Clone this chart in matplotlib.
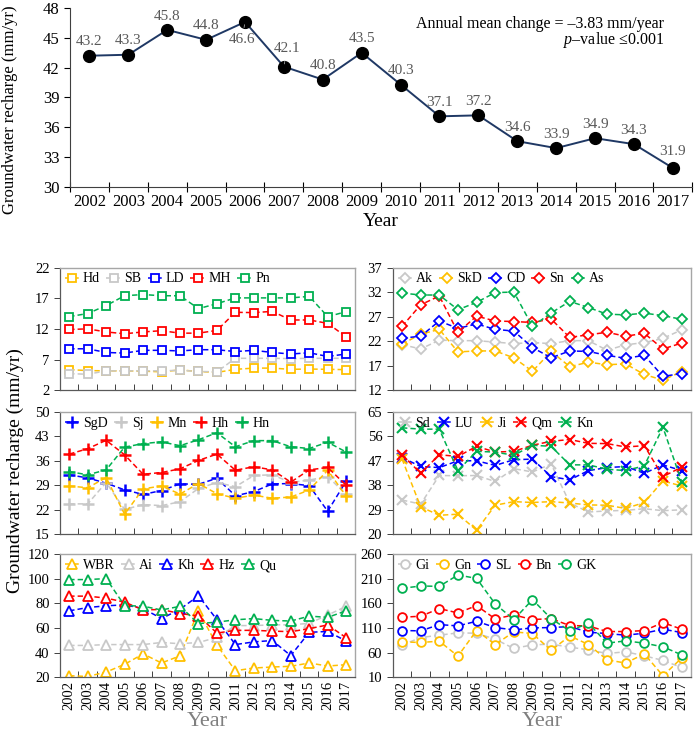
import matplotlib
matplotlib.use('Agg')
import matplotlib.pyplot as plt
import numpy as np

plt.rcParams['font.family'] = ['Liberation Serif', 'DejaVu Serif']
plt.rcParams['mathtext.fontset'] = 'custom'
plt.rcParams['mathtext.rm'] = 'Liberation Serif'
plt.rcParams['mathtext.it'] = 'Liberation Serif:italic'

years = [str(y) for y in range(2002, 2018)]
mean_recharge = [43.2, 43.3, 45.8, 44.8, 46.6, 42.1, 40.8, 43.5, 40.3, 37.1, 37.2, 34.6, 33.9, 34.9, 34.3, 31.9]

# Panel 1
Hd = [5.35, 5.2, 5.15, 5.15, 5.1, 5.0, 5.3, 5.05, 4.9, 5.4, 5.6, 5.6, 5.4, 5.45, 5.4, 5.35]
SB = [4.7, 4.6, 5.15, 5.15, 5.15, 5.15, 5.25, 5.05, 5.0, 7.2, 7.2, 7.2, 7.15, 7.2, 7.2, 7.2]
LD = [8.75, 8.75, 8.15, 8.05, 8.5, 8.5, 8.4, 8.6, 8.6, 8.3, 8.5, 8.15, 7.9, 8.1, 7.5, 7.9]
MH = [11.9, 12.0, 11.5, 11.2, 11.5, 11.7, 11.3, 11.3, 11.75, 14.7, 14.65, 14.85, 13.45, 13.45, 12.9, 10.7]
Pn = [14.0, 14.5, 15.8, 17.4, 17.6, 17.4, 17.4, 15.3, 16.1, 17.05, 17.05, 17.05, 17.05, 17.3, 14.0, 14.8]

# Panel 2
Ak = [21.3, 20.4, 22.2, 22.1, 22.1, 21.8, 21.5, 21.7, 21.5, 22.1, 22.1, 20.15, 21.25, 21.7, 22.55, 24.3]
SkD = [21.4, 23.4, 24.4, 19.8, 20.0, 20.0, 18.6, 15.85, 19.9, 16.8, 17.7, 17.2, 17.35, 15.2, 14.05, 15.8]
CD = [22.6, 23.0, 26.1, 24.6, 25.5, 24.4, 24.05, 20.7, 18.6, 20.0, 19.9, 19.1, 18.5, 19.1, 14.8, 15.4]
Sn = [25.0, 29.4, 31.2, 23.8, 27.1, 26.1, 26.0, 25.8, 26.5, 22.75, 23.3, 23.8, 23.0, 23.6, 20.4, 21.6]
As = [31.8, 31.4, 31.4, 28.4, 29.9, 31.9, 32.0, 25.0, 27.75, 30.1, 28.85, 27.5, 27.35, 27.7, 27.2, 26.45]

# Panel 3
SgD = [32.0, 31.1, 29.6, 27.7, 26.4, 27.5, 29.4, 29.3, 31.0, 26.0, 27.2, 29.4, 29.5, 28.9, 21.6, 30.2]
Sj = [23.7, 23.7, 29.8, 22.1, 23.5, 23.2, 24.3, 28.1, 29.8, 28.6, 31.8, 32.0, 29.8, 30.5, 31.5, 26.4]
Mn = [28.8, 28.3, 31.2, 20.75, 28.0, 28.8, 26.5, 29.5, 26.6, 25.3, 26.2, 25.3, 25.65, 27.65, 33.3, 25.9]
Hh = [37.9, 39.45, 41.85, 37.7, 32.15, 32.65, 33.7, 36.1, 37.9, 33.3, 34.3, 33.4, 29.9, 33.4, 34.1, 29.0]
Hn = [32.9, 32.0, 33.4, 39.9, 40.9, 41.4, 40.3, 42.0, 44.0, 40.0, 41.75, 41.75, 40.0, 39.5, 41.3, 38.5]

# Panel 4
Sd = [32.6, 31.1, 41.6, 41.5, 41.6, 39.4, 44.1, 42.9, 45.8, 31.5, 28.2, 28.6, 28.8, 29.4, 28.7, 29.0]
LU = [48.2, 44.9, 44.5, 47.0, 47.0, 45.3, 47.4, 47.6, 41.2, 40.0, 43.4, 44.5, 44.9, 42.4, 45.5, 43.4]
Ji = [47.7, 30.1, 27.0, 27.4, 21.5, 30.7, 32.0, 31.7, 32.0, 31.5, 30.8, 30.7, 29.5, 31.7, 39.6, 37.75]
Qm = [49.2, 42.4, 49.2, 48.6, 52.3, 50.2, 50.45, 52.7, 54.15, 54.8, 53.4, 53.3, 52.05, 52.55, 41.2, 44.65]
Kn = [59.1, 58.6, 58.6, 43.4, 50.45, 50.2, 49.0, 52.7, 52.3, 45.5, 45.5, 43.9, 43.4, 45.15, 59.3, 39.35]

# Panel 5
WBR = [21.1, 20.5, 24.1, 30.4, 38.9, 31.5, 37.3, 74.0, 46.0, 25.2, 27.4, 28.2, 28.8, 31.5, 29.0, 30.1]
Ai = [45.8, 45.8, 46.5, 46.5, 46.5, 48.2, 47.2, 48.2, 52.3, 62.0, 62.0, 62.6, 62.6, 63.8, 70.6, 77.6]
Kh = [74.0, 76.7, 78.1, 78.9, 75.9, 67.7, 75.3, 86.3, 66.8, 46.5, 48.7, 49.8, 37.5, 56.5, 57.2, 49.4]
Hz = [86.0, 86.0, 84.4, 81.1, 74.8, 75.1, 71.8, 69.9, 55.9, 58.1, 58.1, 57.5, 57.0, 59.5, 62.5, 52.1]
Qu = [99.5, 99.5, 100.3, 78.3, 77.8, 74.7, 77.7, 63.6, 64.8, 66.7, 67.7, 66.2, 65.7, 69.7, 68.7, 74.0]

# Panel 6
Gi = [75.0, 90.6, 95.4, 100.1, 99.4, 87.2, 68.3, 75.7, 77.1, 71.0, 65.6, 58.1, 61.5, 53.4, 43.9, 29.6]
Gn = [81.8, 80.5, 83.2, 52.7, 104.9, 76.4, 102.1, 98.8, 64.2, 94.0, 76.4, 45.2, 38.5, 57.4, 12.7, 48.6]
SL = [104.9, 104.2, 117.0, 114.3, 123.8, 111.0, 106.2, 110.3, 110.9, 113.0, 101.5, 98.7, 95.4, 99.4, 107.6, 100.8]
Bn = [132.0, 134.0, 149.6, 140.8, 155.7, 128.6, 136.7, 127.2, 129.2, 115.0, 114.3, 102.8, 102.8, 104.8, 121.1, 107.6]
GK = [191.0, 195.6, 195.0, 218.0, 211.2, 159.1, 127.2, 167.9, 129.2, 104.1, 119.8, 79.1, 83.8, 79.1, 71.7, 55.4]

panel_names = [['Hd', 'SB', 'LD', 'MH', 'Pn'],
               ['Ak', 'SkD', 'CD', 'Sn', 'As'],
               ['SgD', 'Sj', 'Mn', 'Hh', 'Hn'],
               ['Sd', 'LU', 'Ji', 'Qm', 'Kn'],
               ['WBR', 'Ai', 'Kh', 'Hz', 'Qu'],
               ['Gi', 'Gn', 'SL', 'Bn', 'GK']]
panel_values = [[Hd, SB, LD, MH, Pn],
                [Ak, SkD, CD, Sn, As],
                [SgD, Sj, Mn, Hh, Hn],
                [Sd, LU, Ji, Qm, Kn],
                [WBR, Ai, Kh, Hz, Qu],
                [Gi, Gn, SL, Bn, GK]]
panel_yticks = [[2, 7, 12, 17, 22],
                [12, 17, 22, 27, 32, 37],
                [15, 22, 29, 36, 43, 50],
                [20, 29, 38, 47, 56, 65],
                [20, 40, 60, 80, 100, 120],
                [10, 60, 110, 160, 210, 260]]

YEL, GRY, BLU, RED, GRN = '#FFC000', '#C8C8C8', '#0000FF', '#FF0000', '#00B050'
panel_colors = [[YEL, GRY, BLU, RED, GRN],
                [GRY, YEL, BLU, RED, GRN],
                [BLU, GRY, YEL, RED, GRN],
                [GRY, BLU, YEL, RED, GRN],
                [YEL, GRY, BLU, RED, GRN],
                [GRY, YEL, BLU, RED, GRN]]
panel_markers = ['s', 'D', '+', 'x', '^', 'o']

fig = plt.figure(figsize=(7.0, 7.3), dpi=100)

# ---------------- top panel ----------------
x = np.arange(len(years))
ax = fig.add_axes([0.1, 0.744, 0.889, 0.245])
ax.plot(x, mean_recharge, color='#1F3864', lw=1.4, marker='o', ms=8.5,
        mfc='black', mec='black', zorder=3)
ax.set_xlim(-0.5, len(years) - 0.5)
ax.set_ylim(30, 48)
ax.set_yticks(np.arange(30, 49, 3))
ax.set_xticks(x)
ax.set_xticklabels(years, fontsize=12)
ax.tick_params(axis='x', which='major', length=0, pad=5)
ax.set_xticks(np.arange(-0.5, len(years), 1), minor=True)
ax.tick_params(axis='x', which='minor', length=7, direction='inout', width=0.8)
ax.tick_params(axis='y', labelsize=12, length=4, width=0.8)
for s in ['top', 'right']:
    ax.spines[s].set_visible(False)
for s in ['left', 'bottom']:
    ax.spines[s].set_color('#404040')
    ax.spines[s].set_linewidth(0.8)
ax.set_ylabel('Groundwater recharge (mm/yr)', fontsize=12)
ax.yaxis.set_label_coords(-0.083, 0.43)
ax.set_xlabel('Year', fontsize=14, labelpad=2)

offsets = {4: (-2, -13), 5: (2, 13), 15: (0, 12)}
for i, v in enumerate(mean_recharge):
    dx, dy = offsets.get(i, (0, 10))
    ax.annotate(f'{v:.1f}', (x[i], v), xytext=(dx, dy), textcoords='offset points',
                ha='center', va='center', fontsize=11, color='#595959', zorder=4)
for i in (4, 5):
    v = mean_recharge[i]
    sgn = -1 if i == 4 else 1
    ax.annotate('', (x[i], v), xytext=(offsets[i][0] * 0.5, sgn * 6), textcoords='offset points',
                arrowprops=dict(arrowstyle='-', color='#A0A0A0', lw=0.6))

ax.text(0.955, 0.912, 'Annual mean change = \u20133.83 mm/year', transform=ax.transAxes,
        ha='right', va='center', fontsize=11.5)
ax.text(0.955, 0.822, r'$\it{p}$' + '\u2013value \u22640.001', transform=ax.transAxes,
        ha='right', va='center', fontsize=11.5)

# ---------------- small panels ----------------
lefts = [0.0857, 0.561]
width_l, width_r = 0.422, 0.426
bottoms = [0.4655, 0.268, 0.0725]
height = 0.168

for k in range(6):
    row, col = divmod(k, 2)
    w = width_l if col == 0 else width_r
    a = fig.add_axes([lefts[col], bottoms[row], w, height])
    mk = panel_markers[k]
    for name, vals, c in zip(panel_names[k], panel_values[k], panel_colors[k]):
        if mk == '+':
            kw = dict(marker='+', ms=9, mew=1.8, mec=c)
        elif mk == 'x':
            kw = dict(marker='x', ms=7.5, mew=1.5, mec=c)
        elif mk == 'D':
            kw = dict(marker='D', ms=5.2, mew=1.3, mec=c, mfc='white')
        elif mk == '^':
            kw = dict(marker='^', ms=6.5, mew=1.3, mec=c, mfc='white')
        elif mk == 'o':
            kw = dict(marker='o', ms=6.3, mew=1.3, mec=c, mfc='white')
        else:
            kw = dict(marker='s', ms=5.8, mew=1.3, mec=c, mfc='white')
        a.plot(x, vals, color=c, lw=1.1, ls=(0, (3.5, 2)), label=name, **kw)
    yt = panel_yticks[k]
    a.set_ylim(yt[0], yt[-1])
    a.set_yticks(yt)
    a.set_xlim(-0.5, len(years) - 0.5)
    a.set_xticks(x)
    a.set_xticks(np.arange(-0.5, len(years), 1), minor=True)
    a.tick_params(axis='x', which='major', length=0, pad=3)
    a.tick_params(axis='x', which='minor', length=4, direction='in', width=0.7, color='#404040')
    a.tick_params(axis='y', labelsize=10.5, length=4, width=0.7, color='#404040')
    if row == 2:
        a.set_xticklabels(years, rotation=90, fontsize=10.5)
        a.set_xlabel('Year', fontsize=16, color='#7F7F7F', labelpad=1)
    else:
        a.set_xticklabels([])
    for s in ['top', 'right']:
        a.spines[s].set_color('#A6A6A6')
        a.spines[s].set_linewidth(1.0)
    for s in ['left', 'bottom']:
        a.spines[s].set_color('#595959')
        a.spines[s].set_linewidth(0.9)
    a.legend(loc='upper left', ncol=5, frameon=False, fontsize=10,
             handlelength=1.1, handletextpad=0.2, columnspacing=0.45,
             borderaxespad=0.15, borderpad=0.2)

fig.text(0.022, 0.355, 'Groundwater recharge (mm/yr)', rotation=90, ha='center',
         va='center', fontsize=14)

fig.savefig('out.png', dpi=100)
